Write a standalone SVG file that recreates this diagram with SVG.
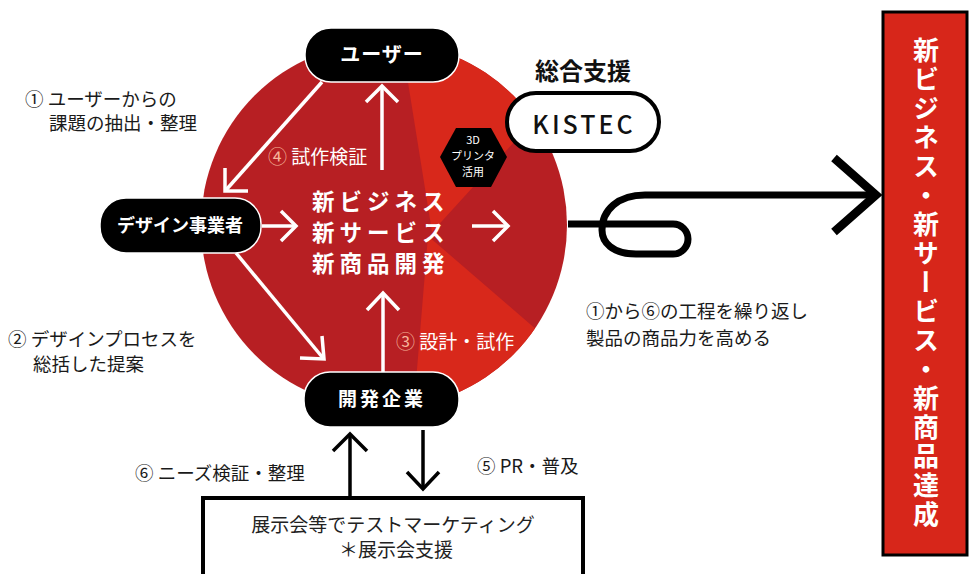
<svg xmlns="http://www.w3.org/2000/svg" width="972" height="574" viewBox="0 0 972 574">
<defs>
<style>
text{font-family:"Noto Sans CJK JP","Noto Sans",sans-serif;}
.node rect{fill:#000;stroke:#fff;stroke-width:1.5;}
.nt{fill:#fff;font-weight:700;text-anchor:middle;}
.lbl{fill:#1a1a1a;font-size:18.5px;}
.wl{fill:#fff;font-size:19px;}
.num{fill:#f6b59a;}
.wa{fill:none;stroke:#fff;stroke-width:3.5;stroke-linecap:butt;}
.ba{fill:none;stroke:#000;stroke-width:3.5;}
.ct{fill:#fff;font-size:22.5px;font-weight:700;letter-spacing:5px;}
</style>
<clipPath id="cc"><circle cx="384" cy="225" r="183"/></clipPath>
</defs>
<g id="circle">
<circle cx="384" cy="225" r="183" fill="#b71f23"/>
<g clip-path="url(#cc)" fill="#d8281b">
<polygon points="432,232 398,20 620,20 600,48"/>
<polygon points="428,236 560,350 520,430 412,430"/>
</g>
</g>
<g id="center-text">
<text class="ct" x="312" y="210">新ビジネス</text>
<text class="ct" x="312" y="241">新サービス</text>
<text class="ct" x="312" y="272">新商品開発</text>
</g>
<g id="hex">
<polygon points="440,157 456,128 491,128 507,157 491,187 456,187" fill="#000"/>
<text x="473" y="144" fill="#fff" font-size="11" text-anchor="middle">3D</text>
<text x="473" y="160" fill="#fff" font-size="11" text-anchor="middle">プリンタ</text>
<text x="473" y="176" fill="#fff" font-size="11" text-anchor="middle">活用</text>
</g>
<g id="connectors">
<path class="wa" d="M322,82 L226,190"/>
<path class="wa" d="M225,168 L225,191 L248,191"/>
<path class="wa" d="M382,170 L382,87"/>
<path class="wa" d="M366,102 L382,86 L398,102"/>
<path class="wa" d="M262,226 L295,226"/>
<path class="wa" d="M281,211 L296,226 L281,241"/>
<path class="wa" d="M472,226 L507,226"/>
<path class="wa" d="M493,211 L508,226 L493,241"/>
<path class="wa" d="M236,253 L323,358"/>
<path class="wa" d="M300,358 L324,359 L322,336"/>
<path class="wa" d="M383,372 L383,294"/>
<path class="wa" d="M367,310 L383,293 L399,310"/>
<path class="ba" d="M350,498 L350,435"/>
<path class="ba" d="M333,451 L350,434 L367,451"/>
<path class="ba" d="M423,430 L423,488"/>
<path class="ba" d="M407,472 L423,489 L439,472"/>
<path d="M568,224 H673 A15,15 0 0 1 673,254 H636 C612,254 602,242 602,230 C602,210 618,195 645,195 H874" fill="none" stroke="#000" stroke-width="7"/>
<path d="M834,158 L876,195 L834,232" fill="none" stroke="#000" stroke-width="8.5"/>
</g>
<g id="user" class="node">
<rect x="305" y="28" width="154" height="54" rx="26"/>
<text class="nt" x="382" y="62" font-size="20" letter-spacing="1">ユーザー</text>
</g>
<g id="designer" class="node">
<rect x="100" y="198" width="161" height="55" rx="26"/>
<text class="nt" x="180" y="232" font-size="18">デザイン事業者</text>
</g>
<g id="developer" class="node">
<rect x="304" y="372" width="155" height="55" rx="26"/>
<text class="nt" x="382" y="406" font-size="19" letter-spacing="3">開発企業</text>
</g>
<g id="kistec">
<text x="583" y="80" font-size="24" font-weight="700" fill="#111" text-anchor="middle">総合支援</text>
<rect x="507" y="93" width="152" height="58" rx="29" fill="#fff" stroke="#000" stroke-width="4"/>
<text x="584" y="134" font-size="25" font-weight="500" fill="#111" text-anchor="middle" letter-spacing="3">KISTEC</text>
</g>
<g id="labels">
<text class="wl" x="268" y="164"><tspan class="num">④</tspan> 試作検証</text>
<text class="wl" x="396" y="349"><tspan class="num">③</tspan> 設計・試作</text>
<text class="lbl" x="25" y="106">① ユーザーからの</text>
<text class="lbl" x="49" y="130">課題の抽出・整理</text>
<text class="lbl" x="8" y="346">② デザインプロセスを</text>
<text class="lbl" x="33" y="371">総括した提案</text>
<text class="lbl" x="135" y="480" font-size="18">⑥ ニーズ検証・整理</text>
<text class="lbl" x="477" y="473" font-size="18">⑤ PR・普及</text>
<text class="lbl" x="586" y="318">①から⑥の工程を繰り返し</text>
<text class="lbl" x="586" y="345">製品の商品力を高める</text>
</g>
<g id="exhibit">
<rect x="203" y="498" width="380" height="90" fill="#fff" stroke="#000" stroke-width="4"/>
<text x="393" y="532" font-size="19" fill="#222" text-anchor="middle">展示会等でテストマーケティング</text>
<text x="396" y="557" font-size="19" fill="#222" text-anchor="middle">＊展示会支援</text>
</g>
<g id="result">
<rect x="883" y="12" width="84" height="543" fill="#d7261a" stroke="#000" stroke-width="3"/>
<text x="926" y="284" font-size="26" font-weight="700" fill="#fff" text-anchor="middle" letter-spacing="3" style="writing-mode:vertical-rl">新ビジネス・新サービス・新商品達成</text>
</g>
</svg>
